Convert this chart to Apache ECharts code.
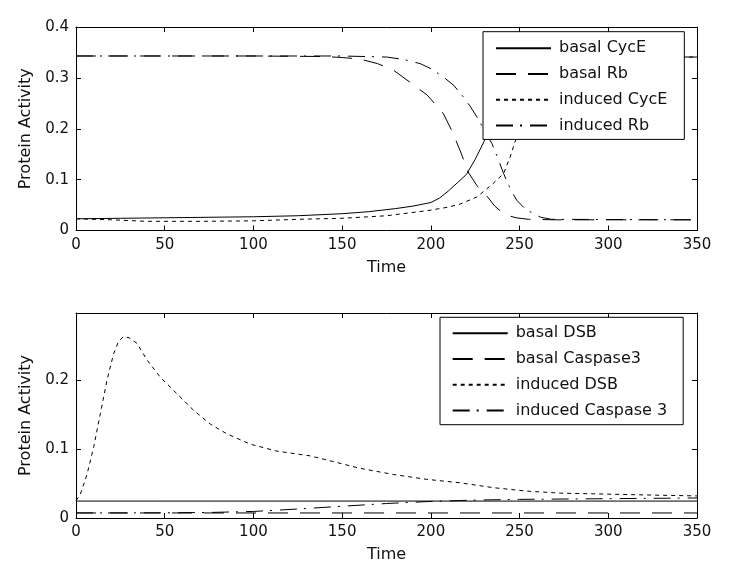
<!DOCTYPE html>
<html>
<head>
<meta charset="utf-8">
<script src="https://cdn.jsdelivr.net/npm/echarts@6/dist/echarts.min.js"></script>
<style>html,body{margin:0;padding:0;background:#fff;}#c{width:731px;height:582px;}</style>
</head>
<body>
<div id="c"></div>
<script>
// ---- Data ----
const xTicks = [0, 50, 100, 150, 200, 250, 300, 350];
const topYTicks = [0, 0.1, 0.2, 0.3, 0.4];
const bottomYTicks = [0, 0.1, 0.2];

const topNames = ['basal CycE', 'basal Rb', 'induced CycE', 'induced Rb'];
const bottomNames = ['basal DSB', 'basal Caspase3', 'induced DSB', 'induced Caspase 3'];

const tBasalCycE = [0, 25, 50, 75, 100, 125, 150, 165, 180, 190, 200, 205, 210, 215, 220, 225, 230, 235, 240, 245, 250, 260, 280, 350];
const vBasalCycE = [0.023, 0.024, 0.025, 0.026, 0.027, 0.029, 0.033, 0.037, 0.043, 0.048, 0.055, 0.064, 0.078, 0.094, 0.11, 0.14, 0.175, 0.23, 0.285, 0.32, 0.335, 0.34, 0.341, 0.341];

const tBasalRb = [0, 50, 100, 140, 150, 160, 170, 179, 188, 198, 207, 212, 216.5, 221, 226, 232, 236, 240, 244, 248, 255, 270, 350];
const vBasalRb = [0.343, 0.343, 0.343, 0.342, 0.340, 0.337, 0.328, 0.315, 0.292, 0.266, 0.23, 0.195, 0.157, 0.115, 0.088, 0.066, 0.048, 0.036, 0.029, 0.025, 0.022, 0.021, 0.021];

const tInducedCycE = [0, 20, 40, 70, 100, 125, 150, 175, 198, 210, 216.5, 226, 235, 241, 244.6, 248, 252, 256, 260, 265, 270, 280, 350];
const vInducedCycE = [0.023, 0.021, 0.018, 0.018, 0.019, 0.022, 0.024, 0.029, 0.039, 0.046, 0.052, 0.066, 0.092, 0.112, 0.144, 0.18, 0.23, 0.28, 0.315, 0.333, 0.339, 0.341, 0.341];

const tInducedRb = [0, 50, 100, 150, 175, 185, 194, 200, 207, 213, 218.4, 222, 226, 230, 234.4, 238, 241, 245, 248.5, 253, 257.8, 262, 268, 350];
const vInducedRb = [0.343, 0.343, 0.343, 0.343, 0.341, 0.336, 0.328, 0.318, 0.302, 0.285, 0.262, 0.245, 0.223, 0.198, 0.171, 0.14, 0.112, 0.08, 0.059, 0.043, 0.033, 0.026, 0.022, 0.021];

const tBasalDSB = [0, 350];
const vBasalDSB = [0.0245, 0.0245];

const tBasalCasp = [0, 350];
const vBasalCasp = [0.0073, 0.0073];

const tInducedDSB = [0, 2.4, 6.2, 9.9, 13.7, 17.5, 21.2, 24, 26.8, 30, 34.4, 40, 47.5, 56.9, 66.3, 75.7, 85, 98.2, 113, 132, 150.8, 160, 179, 197.7, 216.5, 235, 254, 273, 291.6, 310, 329, 350];
const vInducedDSB = [0.025, 0.034, 0.063, 0.102, 0.151, 0.2, 0.238, 0.256, 0.263, 0.261, 0.253, 0.229, 0.204, 0.18, 0.156, 0.136, 0.122, 0.107, 0.097, 0.09, 0.078, 0.072, 0.063, 0.056, 0.051, 0.044, 0.039, 0.036, 0.035, 0.034, 0.033, 0.032];

const tInducedCasp = [0, 50, 75, 100, 125, 150, 175, 200, 225, 250, 300, 350];
const vInducedCasp = [0.0073, 0.0075, 0.008, 0.0095, 0.013, 0.017, 0.021, 0.024, 0.026, 0.027, 0.028, 0.029];

// ---- Build ----
const zip = (t, v) => t.map((x, i) => [x, v[i]]);
const FONT = 'DejaVu Sans';
const TXT = '#111';
const styles = {
  solid: 'solid',
  dashed: [20, 12],
  dotted: [4, 4],
  dashdot: [17, 7, 2, 8]
};

function mkSeries(name, t, v, type, gi) {
  return {
    name: name, type: 'line', data: zip(t, v),
    xAxisIndex: gi * 2, yAxisIndex: gi * 2,
    symbol: 'none', showSymbol: false, smooth: false, animation: false,
    lineStyle: { color: '#000', width: 1, type: styles[type] },
    itemStyle: { color: '#000' },
    emphasis: { disabled: true }
  };
}

const grids = [
  { left: 76, right: 34, top: 27, height: 203.5 },
  { left: 76, right: 34, top: 313, height: 205 }
];

function xAxes(gi) {
  return [
    {
      type: 'value', gridIndex: gi, position: 'bottom', min: 0, max: 350, interval: 50,
      axisLine: { show: true, onZero: false, lineStyle: { color: '#000', width: 1 } },
      axisTick: { show: true, inside: true, length: 5, lineStyle: { color: '#000' } },
      axisLabel: { show: true, margin: 7, color: TXT, fontFamily: FONT, fontSize: 15,
        formatter: v => xTicks.includes(v) ? String(v) : '' },
      splitLine: { show: false },
      name: 'Time', nameLocation: 'middle', nameGap: 29,
      nameTextStyle: { color: TXT, fontFamily: FONT, fontSize: 16 }
    },
    {
      type: 'value', gridIndex: gi, position: 'top', min: 0, max: 350, interval: 50,
      axisLine: { show: true, onZero: false, lineStyle: { color: '#000', width: 1 } },
      axisTick: { show: true, inside: true, length: 5, lineStyle: { color: '#000' } },
      axisLabel: { show: false }, splitLine: { show: false }
    }
  ];
}

function yAxes(gi, max, ticks) {
  return [
    {
      type: 'value', gridIndex: gi, position: 'left', min: 0, max: max, interval: 0.1,
      axisLine: { show: true, onZero: false, lineStyle: { color: '#000', width: 1 } },
      axisTick: { show: true, inside: true, length: 5, lineStyle: { color: '#000' } },
      axisLabel: { show: true, margin: 7, color: TXT, fontFamily: FONT, fontSize: 15,
        showMaxLabel: ticks.includes(max),
        formatter: v => { const r = Math.round(v * 10) / 10; return ticks.some(t => Math.abs(t - v) < 1e-9) ? String(r) : ''; } },
      splitLine: { show: false },
      name: 'Protein Activity', nameLocation: 'middle', nameGap: 42,
      nameTextStyle: { color: TXT, fontFamily: FONT, fontSize: 16 }
    },
    {
      type: 'value', gridIndex: gi, position: 'right', min: 0, max: max, interval: 0.1,
      axisLine: { show: true, onZero: false, lineStyle: { color: '#000', width: 1 } },
      axisTick: { show: true, inside: true, length: 5, lineStyle: { color: '#000' } },
      axisLabel: { show: false }, splitLine: { show: false }
    }
  ];
}

const legendCommon = {
  orient: 'vertical', itemWidth: 55, itemHeight: 14, itemGap: 9.7,
  backgroundColor: '#fff', borderColor: '#000', borderWidth: 1, borderRadius: 0,
  selectedMode: false,
  itemStyle: { color: 'rgba(0,0,0,0)', borderColor: 'rgba(0,0,0,0)', borderWidth: 0, opacity: 0 },
  textStyle: { color: TXT, fontFamily: FONT, fontSize: 16, padding: [0, 0, 0, 3] }
};

const option = {
  animation: false,
  backgroundColor: '#fff',
  grid: grids,
  xAxis: [...xAxes(0), ...xAxes(1)],
  yAxis: [...yAxes(0, 0.4, topYTicks), ...yAxes(1, 0.297, bottomYTicks)],
  legend: [
    Object.assign({}, legendCommon, { data: topNames, left: 483, top: 31.7, padding: [8.6, 17, 6, 12] }),
    Object.assign({}, legendCommon, { data: bottomNames, left: 440, top: 317.3, padding: [8, 16, 6.3, 11.7] })
  ],
  series: [
    mkSeries(topNames[0], tBasalCycE, vBasalCycE, 'solid', 0),
    mkSeries(topNames[1], tBasalRb, vBasalRb, 'dashed', 0),
    mkSeries(topNames[2], tInducedCycE, vInducedCycE, 'dotted', 0),
    mkSeries(topNames[3], tInducedRb, vInducedRb, 'dashdot', 0),
    mkSeries(bottomNames[0], tBasalDSB, vBasalDSB, 'solid', 1),
    mkSeries(bottomNames[1], tBasalCasp, vBasalCasp, 'dashed', 1),
    mkSeries(bottomNames[2], tInducedDSB, vInducedDSB, 'dotted', 1),
    mkSeries(bottomNames[3], tInducedCasp, vInducedCasp, 'dashdot', 1)
  ]
};

const chart = echarts.init(document.getElementById('c'), null, { renderer: 'canvas' });
chart.setOption(option);
</script>
</body>
</html>
